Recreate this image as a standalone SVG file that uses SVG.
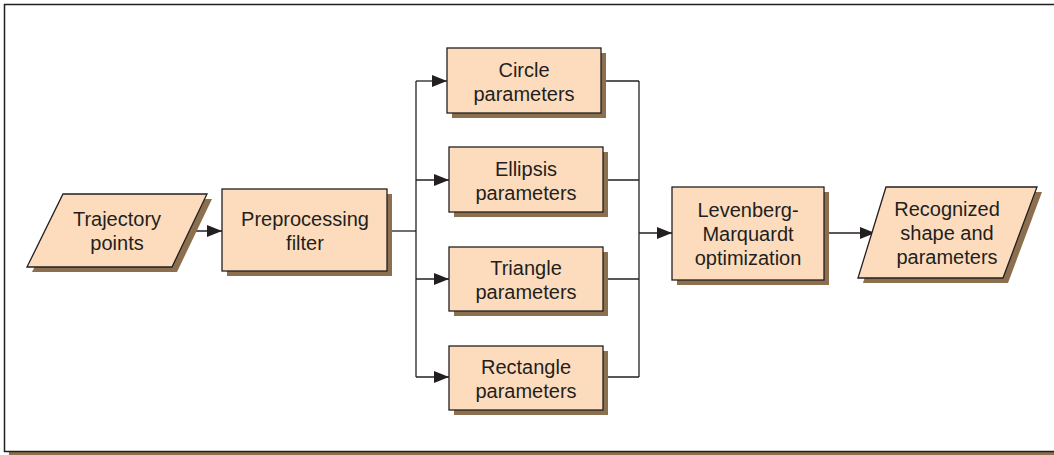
<svg xmlns="http://www.w3.org/2000/svg" width="1054" height="455" viewBox="0 0 1054 455">
<defs>
<style>
.box{fill:#fddcbd;stroke:#231f20;stroke-width:1.3}
.sh{fill:#8b6f4e}
.t{font-family:"Liberation Sans",Arial,sans-serif;font-size:20px;fill:#231f20;text-anchor:middle}
.ln{fill:none;stroke:#231f20;stroke-width:1.3}
</style>
<marker id="ah" viewBox="0 0 15 12" refX="15" refY="6" markerWidth="15" markerHeight="12" markerUnits="userSpaceOnUse" orient="auto">
<path d="M0,0 L15,6 L0,12 Z" fill="#231f20"/>
</marker>
</defs>
<rect x="0" y="0" width="1054" height="455" fill="#fff"/>
<g id="frame">
<rect x="9" y="451" width="1050" height="4" fill="#8b6f4e"/>
<rect x="4.5" y="4.5" width="1060" height="447" fill="none" stroke="#231f20" stroke-width="1.5"/>
</g>
<g id="connectors">
<line class="ln" x1="189" y1="231" x2="222" y2="231" marker-end="url(#ah)"/>
<polyline class="ln" points="387,231 416,231"/>
<line class="ln" x1="416" y1="81" x2="416" y2="377"/>
<line class="ln" x1="416" y1="81" x2="447" y2="81" marker-end="url(#ah)"/>
<line class="ln" x1="416" y1="180" x2="449" y2="180" marker-end="url(#ah)"/>
<line class="ln" x1="416" y1="279" x2="449" y2="279" marker-end="url(#ah)"/>
<line class="ln" x1="416" y1="377" x2="449" y2="377" marker-end="url(#ah)"/>
<line class="ln" x1="601" y1="81" x2="639" y2="81"/>
<line class="ln" x1="603" y1="180" x2="639" y2="180"/>
<line class="ln" x1="603" y1="279" x2="639" y2="279"/>
<line class="ln" x1="603" y1="377" x2="639" y2="377"/>
<line class="ln" x1="639" y1="81" x2="639" y2="377"/>
<line class="ln" x1="639" y1="233" x2="672" y2="233" stroke-width="2" marker-end="url(#ah)"/>
<line class="ln" x1="824" y1="233" x2="875" y2="233" marker-end="url(#ah)"/>
</g>
<g id="trajectory">
<polygon class="sh" points="68,199 212,199 177,272 32,272"/>
<polygon class="box" points="63,194 207,194 172,267 27,267"/>
<text class="t" x="117" y="226">Trajectory</text>
<text class="t" x="117" y="250">points</text>
</g>
<g id="preprocessing">
<rect class="sh" x="227" y="194" width="165" height="82"/>
<rect class="box" x="222" y="189" width="165" height="82"/>
<text class="t" x="305" y="226">Preprocessing</text>
<text class="t" x="305" y="250">filter</text>
</g>
<g id="circle">
<rect class="sh" x="452" y="53" width="154" height="65"/>
<rect class="box" x="447" y="48" width="154" height="65"/>
<text class="t" x="524" y="77">Circle</text>
<text class="t" x="524" y="101">parameters</text>
</g>
<g id="ellipsis">
<rect class="sh" x="454" y="152" width="154" height="65"/>
<rect class="box" x="449" y="147" width="154" height="65"/>
<text class="t" x="526" y="176">Ellipsis</text>
<text class="t" x="526" y="200">parameters</text>
</g>
<g id="triangle">
<rect class="sh" x="454" y="252" width="154" height="64"/>
<rect class="box" x="449" y="247" width="154" height="64"/>
<text class="t" x="526" y="275">Triangle</text>
<text class="t" x="526" y="299">parameters</text>
</g>
<g id="rectangle">
<rect class="sh" x="454" y="351" width="154" height="64"/>
<rect class="box" x="449" y="346" width="154" height="64"/>
<text class="t" x="526" y="374">Rectangle</text>
<text class="t" x="526" y="398">parameters</text>
</g>
<g id="lm">
<rect class="sh" x="677" y="192" width="152" height="93"/>
<rect class="box" x="672" y="187" width="152" height="93"/>
<text class="t" x="748" y="217">Levenberg-</text>
<text class="t" x="748" y="241">Marquardt</text>
<text class="t" x="748" y="265">optimization</text>
</g>
<g id="recognized">
<polygon class="sh" points="891,192 1042,192 1008,283 863,283"/>
<polygon class="box" points="886,187 1037,187 1003,278 858,278"/>
<text class="t" x="947" y="216">Recognized</text>
<text class="t" x="947" y="240">shape and</text>
<text class="t" x="947" y="264">parameters</text>
</g>
</svg>
